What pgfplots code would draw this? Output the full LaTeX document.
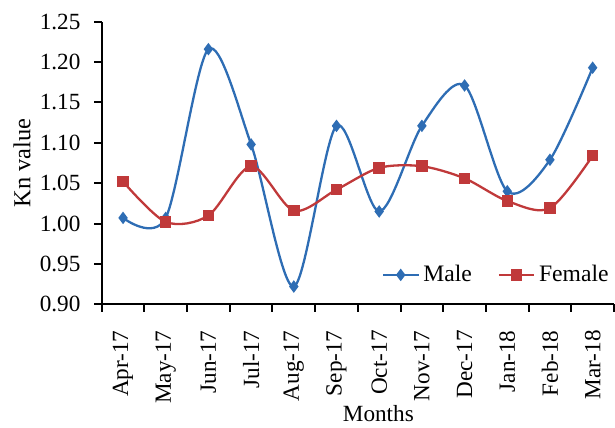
\documentclass[border=0pt]{standalone}
\usepackage{fontspec}
\setmainfont{Liberation Serif}
\usepackage{pgfplots}
\pgfplotsset{compat=1.18}
\definecolor{mblue}{RGB}{46,109,180}
\definecolor{fred}{RGB}{192,57,58}

\begin{document}
\fontsize{11.6bp}{14bp}\selectfont
\begin{tikzpicture}
\useasboundingbox (-50.85bp,-61.85bp) rectangle (256.65bp,152.15bp);
\begin{axis}[
    at={(0,0)}, anchor=south west,
    scale only axis,
    width=256.15bp, height=141.3bp,
    xmin=-0.5, xmax=11.5,
    ymin=0.9, ymax=1.25,
    axis x line*=bottom,
    axis y line*=left,
    axis line style={line width=1bp, black},
    xtick={0,...,11},
    xticklabels={Apr-17,May-17,Jun-17,Jul-17,Aug-17,Sep-17,Oct-17,Nov-17,Dec-17,Jan-18,Feb-18,Mar-18},
    minor xtick={-0.5,0.5,...,11.5},
    ytick={0.90,0.95,1.00,1.05,1.10,1.15,1.20,1.25},
    minor ytick={0.90,0.95,1.00,1.05,1.10,1.15,1.20,1.25},
    major tick length=0pt,
    minor tick length=3.8bp,
    tick align=outside,
    tick style={line width=1bp, black},
    /pgf/number format/assume math mode=true,
    yticklabel style={/pgf/number format/fixed, /pgf/number format/fixed zerofill, /pgf/number format/precision=2, xshift=-6.6bp},
    xticklabel style={rotate=90, anchor=east, inner sep=0pt},
    xticklabel shift=12.85bp,
    ticklabel style={font=\fontsize{11.6bp}{14bp}\selectfont},
    xlabel={Months},
    xlabel style={at={(axis description cs:0.54,0)}, anchor=north, inner sep=0pt, yshift=-50.6bp, font=\fontsize{11.6bp}{14bp}\selectfont},
    ylabel={Kn value},
    ylabel style={at={(axis description cs:-0.1556,0.5)}, anchor=center, inner sep=0pt, font=\fontsize{12.2bp}{14bp}\selectfont},
    legend columns=-1,
    legend style={draw=none, fill=none, at={(axis description cs:0.998,0.104)}, anchor=east,
        font=\fontsize{11.8bp}{14bp}\selectfont, inner sep=0pt,
        /tikz/every even column/.append style={column sep=11bp}},
    legend image code/.code={\draw[mark repeat=2,mark phase=2] plot coordinates {(0bp,0bp) (8.75bp,0bp) (17.5bp,0bp)};},
]
% Male
\addplot[color=mblue, line width=1.15bp, smooth, mark=diamond*, mark size=2.2bp, mark options={solid, fill=mblue}] coordinates {
    (0, 1.007)
    (1, 1.007)
    (2, 1.216)
    (3, 1.098)
    (4, 0.922)
    (5, 1.121)
    (6, 1.015)
    (7, 1.121)
    (8, 1.171)
    (9, 1.040)
    (10, 1.079)
    (11, 1.193)
};
\addlegendentry{Male}
% Female
\addplot[color=fred, line width=1.15bp, smooth, mark=square*, mark size=2.3bp, mark options={solid, fill=fred}] coordinates {
    (0, 1.052)
    (1, 1.002)
    (2, 1.010)
    (3, 1.071)
    (4, 1.016)
    (5, 1.042)
    (6, 1.069)
    (7, 1.071)
    (8, 1.056)
    (9, 1.028)
    (10, 1.019)
    (11, 1.084)
};
\addlegendentry{Female}
\end{axis}
\end{tikzpicture}
\end{document}
